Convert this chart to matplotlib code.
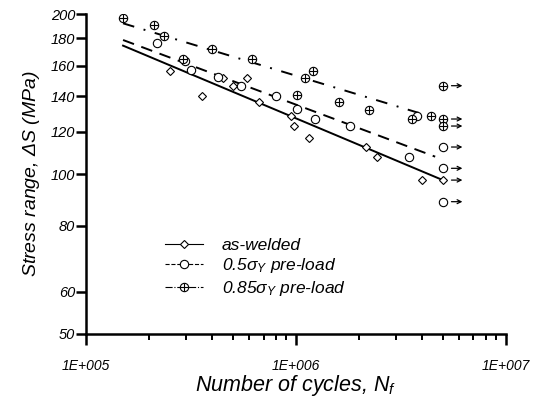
import matplotlib
matplotlib.use("Agg")
import matplotlib.pyplot as plt
from matplotlib.lines import Line2D
from matplotlib.ticker import FixedLocator, NullFormatter, LogLocator

plt.rcParams['font.family'] = ['Liberation Sans', 'DejaVu Sans']
plt.rcParams['font.style'] = 'italic'
plt.rcParams['mathtext.fontset'] = 'custom'
plt.rcParams['mathtext.it'] = 'Liberation Sans:italic'
plt.rcParams['mathtext.rm'] = 'Liberation Sans:italic'

#### test data (N cycles, stress range MPa)
aw_N = [2.51e5, 3.57e5, 4.51e5, 5.01e5, 5.82e5, 6.65e5, 9.44e5, 9.73e5,
        1.15e6, 2.16e6, 2.42e6, 3.98e6]
aw_S = [156.2, 140.5, 151.4, 146.6, 151.6, 136.8, 128.8, 123.1,
        117.1, 112.4, 107.7, 97.4]
aw_run_S = [97.4]

p5_N = [2.17e5, 2.95e5, 3.15e5, 4.27e5, 5.45e5, 8.03e5, 1.01e6, 1.23e6,
        1.81e6, 3.45e6, 3.78e6]
p5_S = [176.4, 163.0, 156.9, 152.0, 146.4, 140.5, 132.4, 126.7,
        123.3, 107.6, 128.7]
p5_run_S = [112.4, 102.5, 88.7]

p85_N = [1.5e5, 2.11e5, 2.35e5, 2.89e5, 3.98e5, 6.2e5, 1.01e6, 1.10e6,
         1.2e6, 1.6e6, 2.23e6, 3.58e6, 4.38e6]
p85_S = [196.3, 190.7, 182.1, 164.4, 171.5, 164.4, 140.6, 151.9,
         156.2, 136.8, 132.2, 126.7, 128.7]
p85_run_S = [146.6, 126.9, 123.1]

run_N = 5.0e6

#### fitted S-N lines (end points)
fit_aw_N = [1.5e5, 5.0e6]
fit_aw_S = [174.4, 97.4]
fit_p5_N = [1.5e5, 4.6e6]
fit_p5_S = [178.7, 107.8]
fit_p85_N = [1.5e5, 4.4e6]
fit_p85_S = [192.1, 128.2]

yticks = [50, 60, 80, 100, 120, 140, 160, 180, 200]
xticks = [1e5, 1e6, 1e7]
xlabels = ['1E+005', '1E+006', '1E+007']

fig = plt.figure(figsize=(5.38, 3.97), dpi=100)
ax = fig.add_axes([0.160, 0.1587, 0.7805, 0.806])
ax.set_xscale('log')
ax.set_yscale('log')

#### fit lines
ax.plot(fit_aw_N, fit_aw_S, '-', color='k', lw=1.4)
l5, = ax.plot(fit_p5_N, fit_p5_S, color='k', lw=1.4)
l5.set_dashes((6, 4))
l85, = ax.plot(fit_p85_N, fit_p85_S, color='k', lw=1.4)
l85.set_dashes((6, 5, 1, 5))

#### points
mk_aw = dict(marker='D', ms=4.2, mfc='white', mec='k', mew=0.8, ls='none')
mk_p5 = dict(marker='o', ms=6, mfc='white', mec='k', mew=0.8, ls='none')
mk_p85 = dict(marker='o', ms=6, mfc='white', mec='k', mew=0.8, ls='none')
mk_plus = dict(marker='+', ms=6, mec='k', mew=0.8, ls='none')

ax.plot(aw_N, aw_S, **mk_aw)
ax.plot(p5_N, p5_S, **mk_p5)
ax.plot(p85_N, p85_S, **mk_p85)
ax.plot(p85_N, p85_S, **mk_plus)
ax.plot([run_N] * len(aw_run_S), aw_run_S, **mk_aw)
ax.plot([run_N] * len(p5_run_S), p5_run_S, **mk_p5)
ax.plot([run_N] * len(p85_run_S), p85_run_S, **mk_p85)
ax.plot([run_N] * len(p85_run_S), p85_run_S, **mk_plus)

#### run-out arrows
for s in aw_run_S + p5_run_S + p85_run_S:
    ax.annotate('', xy=(run_N * 1.24, s), xytext=(run_N * 1.1, s),
                arrowprops=dict(arrowstyle='->', lw=0.9, color='k',
                                shrinkA=0, shrinkB=0, mutation_scale=7))

#### axes
ax.set_xlim(1e5, 1e7)
ax.set_ylim(50, 200)
ax.spines['top'].set_visible(False)
ax.spines['right'].set_visible(False)
ax.spines['left'].set_linewidth(1.8)
ax.spines['bottom'].set_linewidth(1.8)

ax.xaxis.set_major_locator(FixedLocator(xticks))
ax.set_xticklabels(xlabels, fontsize=10)
ax.xaxis.set_minor_locator(LogLocator(base=10, subs=range(2, 10)))
ax.xaxis.set_minor_formatter(NullFormatter())
ax.tick_params(axis='x', which='major', direction='out', length=8, width=1.8, pad=10)
ax.tick_params(axis='x', which='minor', direction='out', length=4, width=1.4)

ax.yaxis.set_major_locator(FixedLocator(yticks))
ax.set_yticklabels([str(v) for v in yticks], fontsize=10.5)
ax.yaxis.set_minor_locator(FixedLocator([]))
ax.tick_params(axis='y', which='major', direction='out', length=7, width=1.8, pad=1)

ax.set_xlabel(r'Number of cycles, N$_f$', fontsize=15.5, labelpad=0)
ax.set_ylabel(r'Stress range, $\Delta$S (MPa)', fontsize=14, labelpad=6)

#### legend
h_aw = Line2D([], [], color='k', lw=0.8, ls='-', marker='D', ms=4.2, mfc='white', mew=0.8)
h_p5 = Line2D([], [], color='k', lw=0.8, ls='--', marker='o', ms=6, mfc='white', mew=0.8)
h_p85 = Line2D([], [], color='k', lw=0.8, ls='-.', marker='o', ms=6, mfc='white', mew=0.8)
h_plus = Line2D([], [], ls='none', marker='+', ms=6, mec='k', mew=0.8)
handles = [h_aw, h_p5, (h_p85, h_plus)]
labels = ['as-welded', r'0.5$\sigma_Y$ pre-load', r'0.85$\sigma_Y$ pre-load']
ax.legend(handles, labels, loc='upper left', bbox_to_anchor=(0.15, 0.35),
          frameon=False, fontsize=12.5, handlelength=2.2, labelspacing=0.2,
          handletextpad=1.1)

fig.savefig('out.png', dpi=100)
